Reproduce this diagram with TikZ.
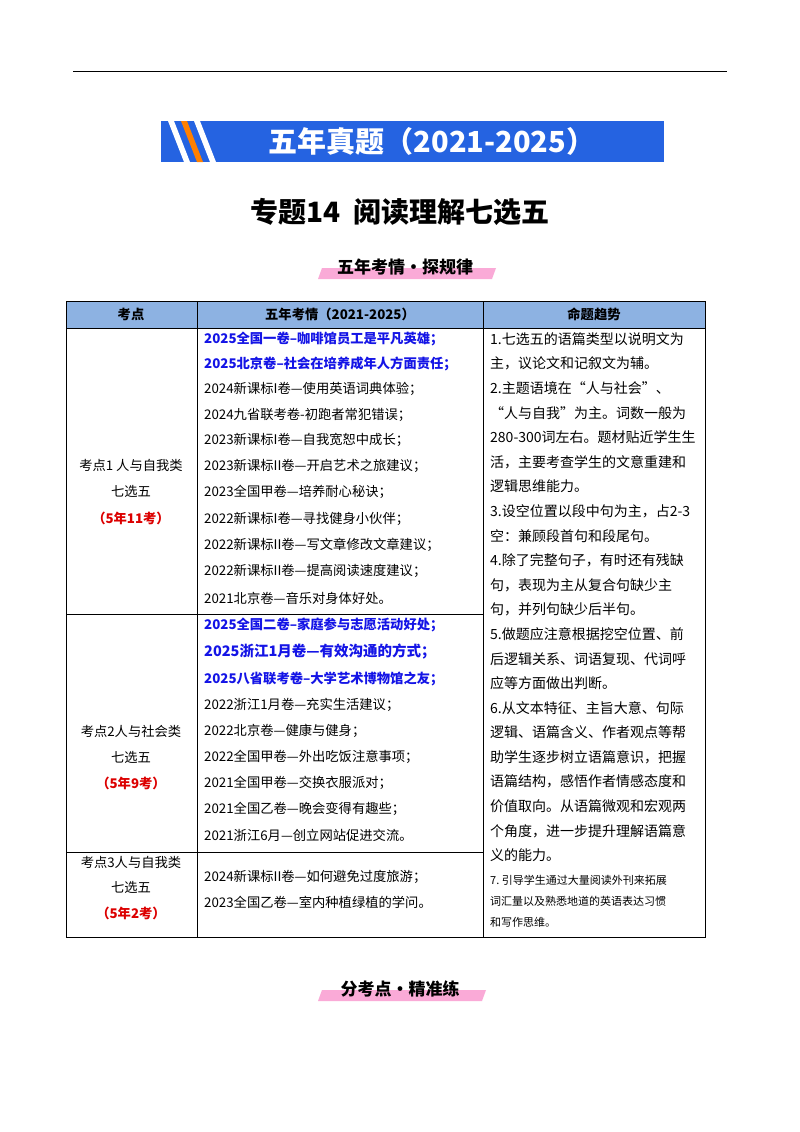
\documentclass[tikz,border=0pt]{standalone}
\usepackage{fontspec}
\setmainfont{Noto Sans CJK SC}
\definecolor{bannerblue}{RGB}{37,99,225}
\definecolor{hdblue}{RGB}{141,178,226}
\definecolor{txblue}{RGB}{20,20,230}
\definecolor{txred}{RGB}{220,0,0}
\definecolor{hlpink}{RGB}{250,170,215}
\begin{document}
\begin{tikzpicture}[x=1pt,y=-1pt,
  tx/.style={anchor=west,inner sep=0pt,font=\fontsize{13.3}{15}\selectfont},
  rx/.style={anchor=west,inner sep=0pt,font=\fontsize{14}{15}\selectfont},
  cx/.style={anchor=center,inner sep=0pt,font=\fontsize{13.3}{15}\selectfont},
  bl/.style={tx,text=txblue,font=\fontsize{13.3}{15}\bfseries\selectfont},
  redt/.style={cx,text=txred,font=\fontsize{13.3}{15}\bfseries\selectfont},
  hd/.style={anchor=center,inner sep=0pt,font=\fontsize{13.3}{15}\bfseries\selectfont},
  ln/.style={line width=0.7pt}]
\useasboundingbox (0,0) rectangle (800,1132);
\fill[white] (0,0) rectangle (800,1132);
\draw[line width=1pt] (73,72) -- (727,72);
% banner
\fill[bannerblue] (161,121) rectangle (664,162);
\fill[white] (168,121) -- (174,121) -- (190,162) -- (184,162) -- cycle;
\fill[orange] (181,121) -- (187,121) -- (203,162) -- (197,162) -- cycle;
\fill[white] (194,121) -- (200,121) -- (216,162) -- (210,162) -- cycle;
\node[anchor=center,text=white,font=\fontsize{29}{32}\bfseries\selectfont] (ban) at (432,141) {五年真题（2021-2025）};
\node[anchor=center,font=\fontsize{28}{32}\bfseries\selectfont] (title) at (400,212) {专题14\ \ 阅读理解七选五};
\fill[hlpink] (322,268) -- (496,268) -- (492,279) -- (318,279) -- cycle;
\node[anchor=center,font=\fontsize{17}{20}\bfseries\selectfont] (sub) at (405,267) {五年考情·探规律};
\fill[hlpink] (322,990) -- (486,990) -- (482,1001) -- (318,1001) -- cycle;
\node[anchor=center,font=\fontsize{17}{20}\bfseries\selectfont] (sub2) at (400,989) {分考点·精准练};
% table
\fill[hdblue] (66,301) rectangle (705,328);
\draw[ln] (66,301) rectangle (705,937);
\draw[ln] (66,328) -- (705,328);
\draw[ln] (197,301) -- (197,937);
\draw[ln] (483,301) -- (483,937);
\draw[ln] (66,614) -- (483,614);
\draw[ln] (66,852) -- (483,852);
\node[hd] (h1) at (131,314) {考点};
\node[hd] (h2) at (340,314) {五年考情（2021-2025）};
\node[hd] (h3) at (594,314) {命题趋势};
% row 1
\node[cx] (a1) at (131,465) {考点1\ 人与自我类};
\node[cx] (a2) at (131,491) {七选五};
\node[redt] (a3) at (131,518) {（5年11考）};
\node[bl] at (204,339) {2025全国一卷--咖啡馆员工是平凡英雄；};
\node[bl] at (204,364) {2025北京卷--社会在培养成年人方面责任；};
\node[tx] at (204,389) {2024新课标I卷—使用英语词典体验；};
\node[tx] at (204,415) {2024九省联考卷-初跑者常犯错误；};
\node[tx] at (204,440) {2023新课标I卷—自我宽恕中成长；};
\node[tx] at (204,466) {2023新课标II卷—开启艺术之旅建议；};
\node[tx] at (204,492) {2023全国甲卷—培养耐心秘诀；};
\node[tx] at (204,519) {2022新课标I卷—寻找健身小伙伴；};
\node[tx] at (204,545) {2022新课标II卷—写文章修改文章建议；};
\node[tx] at (204,571) {2022新课标II卷—提高阅读速度建议；};
\node[tx] at (204,598) {2021北京卷—音乐对身体好处。};
% row 2
\node[cx] at (131,731) {考点2人与社会类};
\node[cx] at (131,757) {七选五};
\node[redt] at (131,783) {（5年9考）};
\node[bl] at (204,625) {2025全国二卷--家庭参与志愿活动好处；};
\node[bl,font=\fontsize{14.5}{16}\bfseries\selectfont] at (204,652) {2025浙江1月卷—有效沟通的方式；};
\node[bl] at (204,679) {2025八省联考卷--大学艺术博物馆之友；};
\node[tx] at (204,705) {2022浙江1月卷—充实生活建议；};
\node[tx] at (204,731) {2022北京卷—健康与健身；};
\node[tx] at (204,757) {2022全国甲卷—外出吃饭注意事项；};
\node[tx] at (204,783) {2021全国甲卷—交换衣服派对；};
\node[tx] at (204,809) {2021全国乙卷—晚会变得有趣些；};
\node[tx] at (204,835) {2021浙江6月—创立网站促进交流。};
% row 3
\node[cx] at (131,862) {考点3人与自我类};
\node[cx] at (131,887) {七选五};
\node[redt] at (131,913) {（5年2考）};
\node[tx] at (204,877) {2024新课标II卷—如何避免过度旅游；};
\node[tx] at (204,902) {2023全国乙卷—室内种植绿植的学问。};
% right column
\foreach \t [count=\i from 0] in {
1.七选五的语篇类型以说明文为,
主，议论文和记叙文为辅。,
2.主题语境在“人与社会”、,
“人与自我”为主。词数一般为,
280-300词左右。题材贴近学生生,
活，主要考查学生的文意重建和,
逻辑思维能力。,
3.设空位置以段中句为主，占2-3,
空：兼顾段首句和段尾句。,
4.除了完整句子，有时还有残缺,
句，表现为主从复合句缺少主,
句，并列句缺少后半句。,
5.做题应注意根据挖空位置、前,
后逻辑关系、词语复现、代词呼,
应等方面做出判断。,
6.从文本特征、主旨大意、句际,
逻辑、语篇含义、作者观点等帮,
助学生逐步树立语篇意识，把握,
语篇结构，感悟作者情感态度和,
价值取向。从语篇微观和宏观两,
个角度，进一步提升理解语篇意,
义的能力。}
  \node[rx] at (490,339+24.6*\i) {\t};
\node[tx,font=\fontsize{11}{12}\selectfont] at (490,880) {7.\ 引导学生通过大量阅读外刊来拓展};
\node[tx,font=\fontsize{11}{12}\selectfont] at (490,901) {词汇量以及熟悉地道的英语表达习惯};
\node[tx,font=\fontsize{11}{12}\selectfont] at (490,922) {和写作思维。};
\end{tikzpicture}
\end{document}
